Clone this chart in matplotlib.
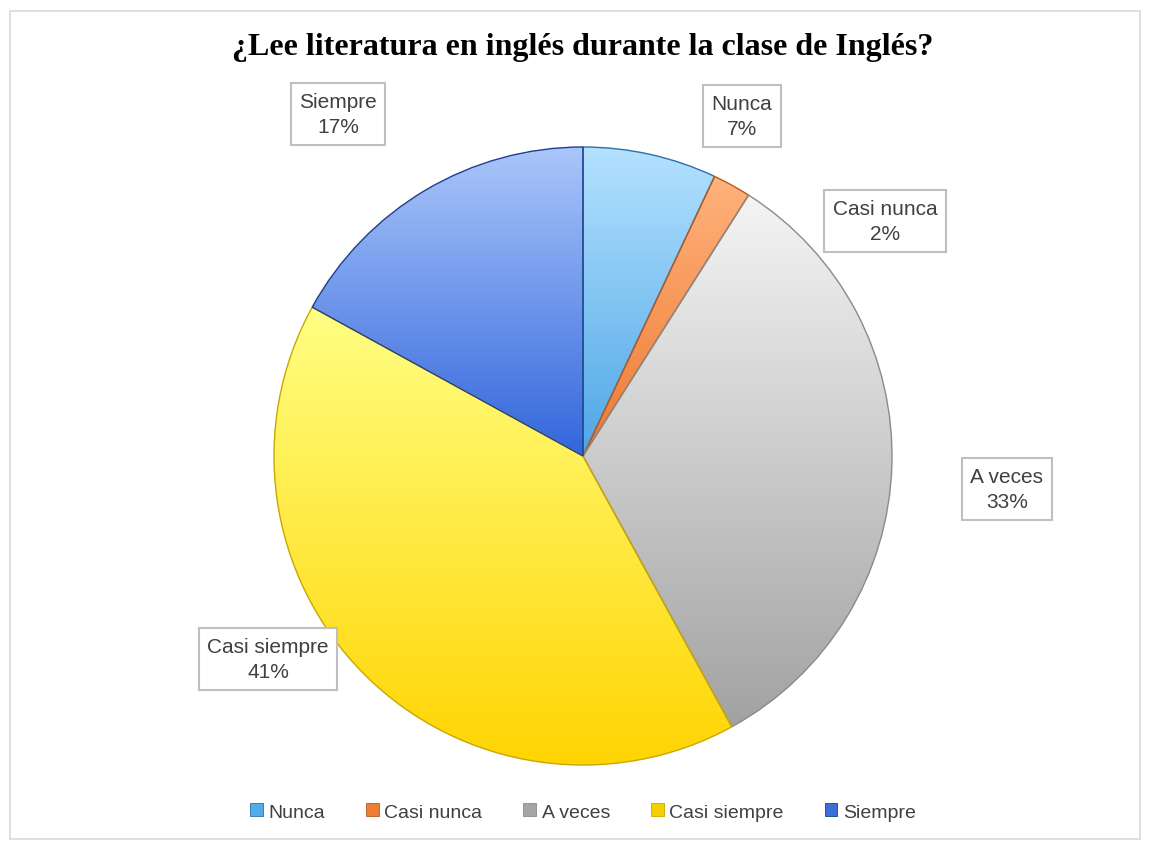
import matplotlib
matplotlib.use('Agg')
import matplotlib.pyplot as plt
from matplotlib.patches import Patch, Rectangle
from matplotlib.colors import to_rgb
import numpy as np

# Datos de la encuesta
categorias = ["Nunca", "Casi nunca", "A veces", "Casi siempre", "Siempre"]
porcentajes = [7, 2, 33, 41, 17]
titulo = "¿Lee literatura en inglés durante la clase de Inglés?"

# colores: claro arriba -> oscuro abajo
color_arriba = ['#b4e2ff', '#ffb27c', '#f4f4f4', '#ffff84', '#aac6fa']
color_abajo = ['#4ea6e6', '#ee7a32', '#a2a2a2', '#ffd400', '#3366dc']
color_borde = ['#2f6fa8', '#b85a20', '#8a8a8a', '#c8a800', '#1f3f8f']
color_leyenda = ['#4faee8', '#ee7d35', '#a5a5a5', '#f5d000', '#3c6fd8']

W, H = 1150, 845
def py(y):
    # pixeles desde arriba -> coordenada y del eje
    return H - y

label_font = ['Liberation Sans', 'DejaVu Sans']
text_col = '#404040'

fig = plt.figure(figsize=(W / 100, H / 100), dpi=100)
ax = fig.add_axes([0, 0, 1, 1])

centro = (583, py(457))
radio = 309

wedges, _ = ax.pie(porcentajes, startangle=90, counterclock=False,
                   center=centro, radius=radio,
                   wedgeprops=dict(linewidth=1.0))

# relleno degradado (vertical) recortado a cada porcion
for i, w in enumerate(wedges):
    w.set_facecolor('none')
    w.set_edgecolor(color_borde[i])
    w.set_zorder(3)
    verts = w.get_path().vertices
    x0, x1 = verts[:, 0].min(), verts[:, 0].max()
    y0, y1 = verts[:, 1].min(), verts[:, 1].max()
    t = np.linspace(0, 1, 256).reshape(-1, 1, 1)
    c0 = np.array(to_rgb(color_arriba[i])).reshape(1, 1, 3)
    c1 = np.array(to_rgb(color_abajo[i])).reshape(1, 1, 3)
    grad = c0 * (1 - t) + c1 * t
    grad = np.repeat(grad, 2, axis=1)
    im = ax.imshow(grad, extent=(x0, x1, y0, y1), origin='upper',
                   aspect='auto', interpolation='bilinear', zorder=2)
    im.set_clip_path(w)

# Etiquetas de datos (posiciones de las cajas)
pos_etiquetas = [(742, 117), (885, 222), (1007, 490), (268, 660), (338, 115)]
for i, (cx, cy) in enumerate(pos_etiquetas):
    ax.text(cx, py(cy), categorias[i] + "\n" + str(porcentajes[i]) + "%",
            ha='center', va='center', fontsize=15, color=text_col,
            family=label_font, linespacing=1.45, zorder=5,
            bbox=dict(boxstyle='square,pad=0.4', facecolor='white',
                      edgecolor='#bfbfbf', linewidth=1.5))

ax.text(583, py(47), titulo, ha='center', va='center', fontsize=23,
        fontweight='bold', family=['Liberation Serif', 'DejaVu Serif'],
        color='black')

# marco exterior
ax.add_patch(Rectangle((10, py(840)), 1130, 828, facecolor='none',
                       edgecolor='#d9d9d9', linewidth=1.2, zorder=1))

ax.set_xlim(0, W)
ax.set_ylim(0, H)
ax.set_axis_off()

handles = [Patch(facecolor=color_leyenda[i], edgecolor=color_borde[i],
                 linewidth=0.6, label=categorias[i])
           for i in range(len(categorias))]
leg = fig.legend(handles=handles, loc='center',
                 bbox_to_anchor=(583 / W, 1 - 813 / H), ncol=5,
                 frameon=False, handlelength=0.65, handleheight=0.65,
                 handletextpad=0.3, columnspacing=2.1,
                 prop={'family': label_font, 'size': 14})
for t in leg.get_texts():
    t.set_color(text_col)

plt.savefig('out.png', dpi=100)
